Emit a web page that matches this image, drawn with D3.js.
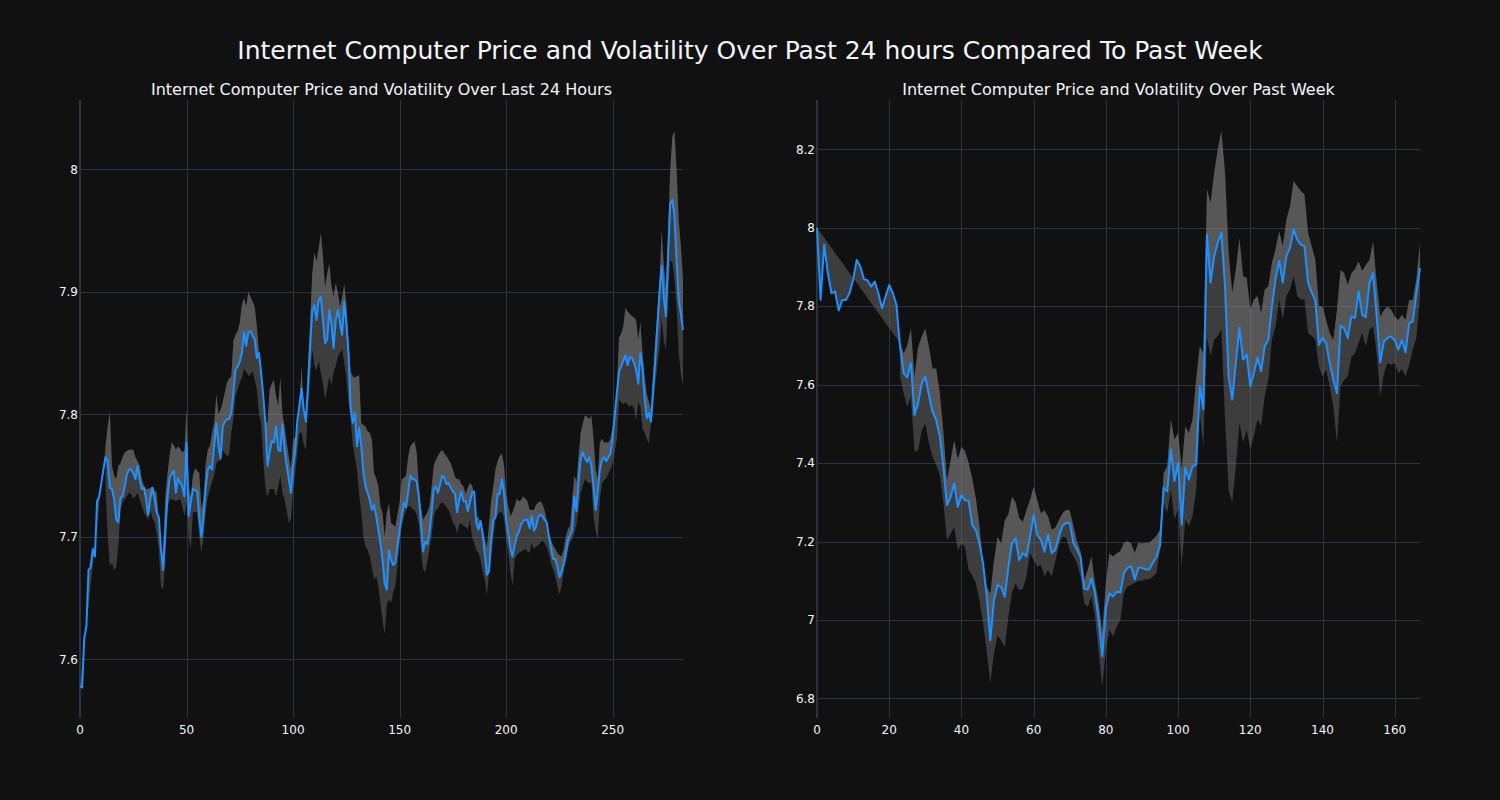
<!DOCTYPE html>
<html><head><meta charset="utf-8">
<script src="https://cdn.jsdelivr.net/npm/d3@7"></script>
<style>body{margin:0;background:#111111;} svg{display:block;}</style>
</head><body>
<svg id="chart" width="1500" height="800"></svg>
<script>
const mainTitle = "Internet Computer Price and Volatility Over Past 24 hours Compared To Past Week";
const leftTitle = "Internet Computer Price and Volatility Over Last 24 Hours";
const rightTitle = "Internet Computer Price and Volatility Over Past Week";

// 24h price (index 0..283)
const leftPrice = [
7.578,7.577,7.617,7.627,7.673,7.675,7.69,7.684,7.729,7.733,
7.744,7.755,7.765,7.762,7.74,7.739,7.731,7.714,7.712,7.732,
7.733,7.741,7.751,7.755,7.755,7.752,7.747,7.758,7.747,7.739,
7.74,7.731,7.718,7.731,7.74,7.731,7.72,7.716,7.69,7.673,
7.703,7.731,7.748,7.751,7.754,7.736,7.748,7.744,7.741,7.733,
7.777,7.717,7.728,7.739,7.738,7.737,7.715,7.70,7.717,7.74,
7.755,7.758,7.755,7.775,7.793,7.774,7.764,7.79,7.794,7.796,
7.796,7.801,7.818,7.837,7.839,7.843,7.85,7.867,7.856,7.867,
7.868,7.864,7.861,7.846,7.85,7.834,7.815,7.793,7.758,7.769,
7.778,7.777,7.79,7.771,7.77,7.792,7.771,7.758,7.747,7.736,
7.758,7.77,7.795,7.808,7.821,7.804,7.794,7.823,7.855,7.885,
7.889,7.877,7.893,7.896,7.877,7.858,7.861,7.885,7.874,7.854,
7.877,7.885,7.875,7.865,7.892,7.874,7.85,7.806,7.793,7.801,
7.774,7.789,7.774,7.752,7.741,7.736,7.73,7.722,7.726,7.717,
7.706,7.695,7.681,7.662,7.657,7.689,7.681,7.677,7.679,7.692,
7.706,7.717,7.728,7.724,7.736,7.75,7.747,7.747,7.745,7.733,
7.711,7.688,7.696,7.694,7.703,7.72,7.739,7.741,7.736,7.743,
7.75,7.748,7.743,7.744,7.74,7.737,7.735,7.72,7.73,7.737,
7.729,7.729,7.721,7.728,7.736,7.737,7.711,7.706,7.713,7.702,
7.685,7.669,7.672,7.698,7.714,7.716,7.735,7.735,7.747,7.735,
7.713,7.703,7.69,7.684,7.693,7.701,7.704,7.71,7.713,7.714,
7.714,7.707,7.717,7.705,7.708,7.716,7.718,7.717,7.714,7.712,
7.701,7.691,7.682,7.682,7.676,7.667,7.671,7.678,7.686,7.697,
7.701,7.705,7.733,7.721,7.745,7.764,7.769,7.764,7.761,7.765,
7.758,7.741,7.722,7.737,7.755,7.763,7.765,7.762,7.765,7.768,
7.782,7.8,7.818,7.835,7.839,7.844,7.848,7.84,7.847,7.846,
7.842,7.836,7.825,7.85,7.838,7.812,7.797,7.801,7.794,7.82,
7.845,7.872,7.9,7.921,7.895,7.88,7.93,7.972,7.975,7.962,
7.925,7.893,7.882,7.869
];
const leftBandStart = 12;
// 24h volatility band, upper edge (index 12..283)
const leftUpper = [
7.775,7.79,7.802,7.758,7.75,7.747,7.758,7.76,
7.765,7.769,7.77,7.771,7.771,7.771,7.765,7.762,7.758,7.747,
7.742,7.739,7.739,7.74,7.741,7.738,7.736,7.714,7.68,7.69,
7.731,7.75,7.766,7.777,7.775,7.771,7.774,7.772,7.769,7.77,
7.805,7.74,7.733,7.75,7.756,7.754,7.752,7.722,7.733,7.76,
7.771,7.774,7.785,7.793,7.816,7.8,7.804,7.81,7.818,7.826,
7.829,7.831,7.86,7.865,7.868,7.875,7.89,7.895,7.888,7.9,
7.896,7.892,7.888,7.872,7.85,7.837,7.801,7.795,7.793,7.82,
7.825,7.828,7.815,7.807,7.83,7.8,7.79,7.777,7.765,7.755,
7.779,7.782,7.785,7.81,7.839,7.8,7.796,7.84,7.875,7.915,
7.932,7.925,7.935,7.948,7.93,7.904,7.915,7.923,7.905,7.896,
7.907,7.9,7.888,7.895,7.906,7.89,7.861,7.835,7.831,7.83,
7.831,7.832,7.793,7.791,7.79,7.786,7.785,7.779,7.752,7.748,
7.741,7.725,7.719,7.7,7.72,7.727,7.711,7.71,7.708,7.719,
7.728,7.747,7.748,7.75,7.765,7.774,7.776,7.778,7.769,7.741,
7.725,7.714,7.717,7.72,7.725,7.74,7.758,7.763,7.766,7.769,
7.771,7.768,7.766,7.763,7.76,7.755,7.749,7.747,7.747,7.743,
7.741,7.735,7.74,7.744,7.742,7.735,7.717,7.716,7.71,7.706,
7.698,7.692,7.711,7.73,7.741,7.755,7.762,7.766,7.768,7.758,
7.735,7.725,7.717,7.72,7.725,7.731,7.729,7.73,7.733,7.731,
7.729,7.722,7.722,7.722,7.726,7.728,7.729,7.727,7.722,7.714,
7.703,7.698,7.693,7.69,7.687,7.685,7.684,7.69,7.7,7.706,
7.709,7.73,7.75,7.745,7.766,7.785,7.793,7.799,7.798,7.796,
7.799,7.78,7.755,7.747,7.777,7.78,7.777,7.777,7.777,7.78,
7.79,7.8,7.823,7.863,7.866,7.872,7.887,7.884,7.882,7.88,
7.879,7.877,7.861,7.875,7.85,7.83,7.817,7.81,7.804,7.833,
7.86,7.885,7.91,7.95,7.921,7.904,7.948,7.999,8.027,8.031,
7.999,7.959,7.937,7.91
];
// 24h volatility band, lower edge (index 12..283)
const leftLower = [
7.74,7.70,7.676,7.679,7.673,7.675,7.693,7.722,
7.728,7.731,7.733,7.736,7.735,7.731,7.733,7.736,7.73,7.725,
7.72,7.717,7.714,7.722,7.715,7.712,7.703,7.69,7.66,7.657,
7.68,7.722,7.73,7.731,7.73,7.729,7.73,7.731,7.725,7.717,
7.728,7.7,7.69,7.72,7.72,7.72,7.7,7.687,7.7,7.72,
7.733,7.739,7.745,7.75,7.76,7.762,7.763,7.771,7.768,7.766,
7.767,7.785,7.796,7.815,7.82,7.826,7.83,7.837,7.835,7.831,
7.833,7.835,7.828,7.82,7.8,7.793,7.763,7.74,7.733,7.739,
7.739,7.739,7.733,7.74,7.75,7.736,7.73,7.722,7.711,7.715,
7.738,7.752,7.77,7.785,7.785,7.775,7.771,7.806,7.83,7.853,
7.84,7.836,7.844,7.834,7.825,7.812,7.82,7.831,7.823,7.835,
7.839,7.847,7.85,7.853,7.842,7.83,7.81,7.796,7.775,7.765,
7.755,7.735,7.72,7.7,7.692,7.689,7.684,7.675,7.665,7.668,
7.66,7.646,7.632,7.62,7.645,7.649,7.646,7.655,7.66,7.676,
7.695,7.709,7.716,7.722,7.725,7.725,7.723,7.722,7.718,7.71,
7.69,7.674,7.671,7.68,7.69,7.7,7.716,7.722,7.723,7.727,
7.728,7.727,7.724,7.722,7.717,7.712,7.709,7.703,7.71,7.711,
7.709,7.708,7.706,7.714,7.7,7.695,7.689,7.687,7.681,7.672,
7.665,7.652,7.673,7.685,7.7,7.714,7.718,7.72,7.72,7.715,
7.698,7.687,7.671,7.66,7.682,7.685,7.687,7.688,7.689,7.69,
7.688,7.687,7.695,7.69,7.692,7.693,7.695,7.697,7.695,7.692,
7.687,7.678,7.674,7.668,7.66,7.653,7.66,7.672,7.68,7.69,
7.695,7.698,7.703,7.71,7.722,7.736,7.742,7.747,7.745,7.744,
7.744,7.717,7.705,7.698,7.731,7.744,7.746,7.748,7.752,7.755,
7.76,7.77,7.78,7.812,7.81,7.808,7.81,7.808,7.806,7.808,
7.805,7.795,7.81,7.806,7.788,7.785,7.78,7.776,7.793,7.809,
7.825,7.84,7.855,7.877,7.86,7.853,7.896,7.926,7.924,7.91,
7.888,7.85,7.833,7.823
];

// Week price (index 0..167)
const rightPrice = [
8.0,7.816,7.957,7.884,7.833,7.838,7.789,7.816,7.816,7.833,
7.867,7.918,7.901,7.869,7.866,7.85,7.863,7.833,7.795,7.825,
7.854,7.833,7.804,7.697,7.629,7.619,7.655,7.523,7.553,7.603,
7.62,7.573,7.531,7.51,7.47,7.39,7.293,7.314,7.348,7.288,
7.318,7.305,7.304,7.242,7.229,7.195,7.144,7.06,6.948,7.05,
7.089,7.084,7.059,7.135,7.195,7.208,7.152,7.17,7.162,7.213,
7.268,7.217,7.205,7.174,7.217,7.17,7.179,7.213,7.24,7.248,
7.247,7.196,7.179,7.16,7.08,7.077,7.106,7.068,7.0,6.907,
7.03,7.068,7.06,7.072,7.07,7.12,7.133,7.137,7.103,7.133,
7.133,7.129,7.129,7.146,7.16,7.19,7.337,7.328,7.435,7.354,
7.401,7.243,7.388,7.358,7.392,7.396,7.596,7.537,7.983,7.86,
7.928,7.962,7.987,7.85,7.62,7.562,7.656,7.745,7.664,7.677,
7.596,7.63,7.668,7.634,7.698,7.715,7.8,7.87,7.915,7.86,
7.928,7.949,7.996,7.97,7.957,7.953,7.86,7.835,7.815,7.702,
7.719,7.706,7.655,7.612,7.578,7.75,7.744,7.719,7.774,7.77,
7.838,7.778,7.772,7.859,7.884,7.774,7.657,7.71,7.719,7.723,
7.713,7.689,7.714,7.682,7.757,7.761,7.833,7.897
];
const rightBandStart = 23;
// Week volatility band, upper edge (index 23..167)
const rightUpper = [
7.706,7.68,7.70,7.744,7.62,7.696,7.722,
7.743,7.696,7.641,7.641,7.58,7.48,7.356,7.407,7.458,7.41,
7.441,7.43,7.4,7.36,7.31,7.24,7.14,7.084,7.067,7.15,
7.212,7.195,7.254,7.27,7.314,7.3,7.26,7.25,7.28,7.306,
7.34,7.306,7.272,7.28,7.264,7.23,7.235,7.255,7.272,7.281,
7.28,7.24,7.2,7.175,7.102,7.128,7.162,7.094,7.043,6.97,
7.094,7.17,7.162,7.17,7.175,7.197,7.201,7.195,7.171,7.197,
7.195,7.197,7.197,7.205,7.214,7.231,7.375,7.392,7.511,7.46,
7.477,7.384,7.494,7.477,7.511,7.613,7.698,7.68,8.098,8.064,
8.14,8.2,8.247,8.14,7.936,7.834,7.894,7.974,7.877,7.872,
7.792,7.817,7.826,7.783,7.843,7.85,7.911,7.945,7.991,7.953,
8.021,8.055,8.119,8.106,8.094,8.085,7.987,7.953,7.919,7.8,
7.799,7.765,7.731,7.714,7.791,7.893,7.884,7.855,7.884,7.895,
7.914,7.89,7.905,7.918,7.965,7.86,7.774,7.79,7.799,7.791,
7.774,7.765,7.778,7.765,7.816,7.816,7.87,7.961
];
// Week volatility band, lower edge (index 23..167)
const rightLower = [
7.62,7.578,7.544,7.57,7.429,7.433,7.484,
7.501,7.45,7.416,7.395,7.37,7.3,7.203,7.22,7.237,7.178,
7.195,7.186,7.127,7.114,7.093,7.05,6.991,6.92,6.838,6.915,
6.961,6.948,6.931,7.008,7.071,7.093,7.076,7.08,7.11,7.17,
7.153,7.136,7.14,7.111,7.128,7.111,7.15,7.19,7.213,7.21,
7.179,7.162,7.145,7.111,7.043,7.034,7.06,7.009,6.92,6.83,
6.924,6.975,6.958,6.983,7.0,7.07,7.085,7.09,7.095,7.1,
7.1,7.104,7.104,7.11,7.12,7.18,7.299,7.273,7.333,7.256,
7.282,7.137,7.256,7.239,7.265,7.33,7.528,7.443,7.72,7.673,
7.715,7.724,7.741,7.511,7.333,7.299,7.392,7.503,7.452,7.486,
7.435,7.47,7.511,7.494,7.571,7.613,7.715,7.749,7.817,7.766,
7.826,7.843,7.877,7.826,7.817,7.817,7.732,7.724,7.715,7.646,
7.621,7.638,7.595,7.544,7.451,7.595,7.612,7.62,7.672,7.68,
7.706,7.731,7.697,7.74,7.748,7.68,7.57,7.629,7.655,7.65,
7.655,7.629,7.64,7.621,7.65,7.689,7.72,7.825
];

const leftXTicks = [0, 50, 100, 150, 200, 250];
const leftYTicks = [7.6, 7.7, 7.8, 7.9, 8];
const rightXTicks = [0, 20, 40, 60, 80, 100, 120, 140, 160];
const rightYTicks = [6.8, 7, 7.2, 7.4, 7.6, 7.8, 8, 8.2];

const W = 1500, H = 800;
const M = {l: 80, r: 80, t: 100, b: 82};
const plotW = W - M.l - M.r;
const FONT = '"DejaVu Sans", Verdana, sans-serif';
const TXT = '#f2f5fa', GRID = '#283442';
const LINE = '#1e90ff', FILL = 'rgba(128,128,128,0.4)';

const svg = d3.select('#chart');
svg.append('rect').attr('width', W).attr('height', H).attr('fill', '#111111');

svg.append('text').attr('x', W/2).attr('y', 58.5).attr('text-anchor', 'middle')
  .attr('font-family', FONT).attr('font-size', 25).attr('fill', TXT).text(mainTitle);

function panel(o) {
  const x0 = M.l + o.d0 * plotW, x1 = M.l + o.d1 * plotW;
  const x = d3.scaleLinear().domain([0, o.price.length - 1]).range([x0, x1]);
  const y = d3.scaleLinear().domain(o.yDomain).range([H - M.b, M.t]);
  const g = svg.append('g');

  g.append('g').selectAll('line').data(o.yTicks).join('line')
    .attr('x1', x0).attr('x2', x1).attr('y1', d => Math.round(y(d)) + 0.5).attr('y2', d => Math.round(y(d)) + 0.5)
    .attr('stroke', GRID).attr('stroke-width', 1);
  g.append('g').selectAll('line').data(o.xTicks.filter(d => d !== 0)).join('line')
    .attr('y1', M.t).attr('y2', H - M.b).attr('x1', d => Math.round(x(d)) + 0.5).attr('x2', d => Math.round(x(d)) + 0.5)
    .attr('stroke', GRID).attr('stroke-width', 1);
  g.append('line').attr('x1', x(0)).attr('x2', x(0)).attr('y1', M.t).attr('y2', H - M.b)
    .attr('stroke', GRID).attr('stroke-width', 2);

  const band = o.upper.map((u, i) => ({i: i + o.bandStart, hi: u, lo: o.lower[i]}));
  const area = d3.area().x(d => x(d.i)).y0(d => y(d.lo)).y1(d => y(d.hi));
  g.append('path').attr('d', area(band)).attr('fill', FILL).attr('stroke', 'none');

  const pts = o.price.map((v, i) => [x(i), y(v)]);
  const back = band.slice().reverse().map(d => [x(d.i), y(d.hi)]);
  g.append('path').attr('d', d3.line()(pts.concat(back)) + 'Z').attr('fill', FILL).attr('stroke', 'none');

  g.append('path').attr('d', d3.line()(pts)).attr('fill', 'none')
    .attr('stroke', LINE).attr('stroke-width', 2).attr('stroke-linejoin', 'round');

  g.append('g').selectAll('text').data(o.xTicks).join('text')
    .attr('x', d => x(d)).attr('y', H - M.b + 15.5).attr('text-anchor', 'middle')
    .attr('font-family', FONT).attr('font-size', 12).attr('fill', TXT).text(d => d3.format('~g')(d));
  g.append('g').selectAll('text').data(o.yTicks).join('text')
    .attr('x', x0 - 2).attr('y', d => y(d) + 4.2).attr('text-anchor', 'end')
    .attr('font-family', FONT).attr('font-size', 12).attr('fill', TXT).text(d => d3.format('~g')(d));

  svg.append('text').attr('x', (x0 + x1) / 2).attr('y', M.t - 5).attr('text-anchor', 'middle')
    .attr('font-family', FONT).attr('font-size', 16).attr('fill', TXT).text(o.title);
}

panel({d0: 0, d1: 0.45, price: leftPrice, upper: leftUpper, lower: leftLower, bandStart: leftBandStart,
  yDomain: [7.5521, 8.0566], xTicks: leftXTicks, yTicks: leftYTicks, title: leftTitle});
panel({d0: 0.55, d1: 1, price: rightPrice, upper: rightUpper, lower: rightLower, bandStart: rightBandStart,
  yDomain: [6.7502, 8.3257], xTicks: rightXTicks, yTicks: rightYTicks, title: rightTitle});
</script>
</body></html>
